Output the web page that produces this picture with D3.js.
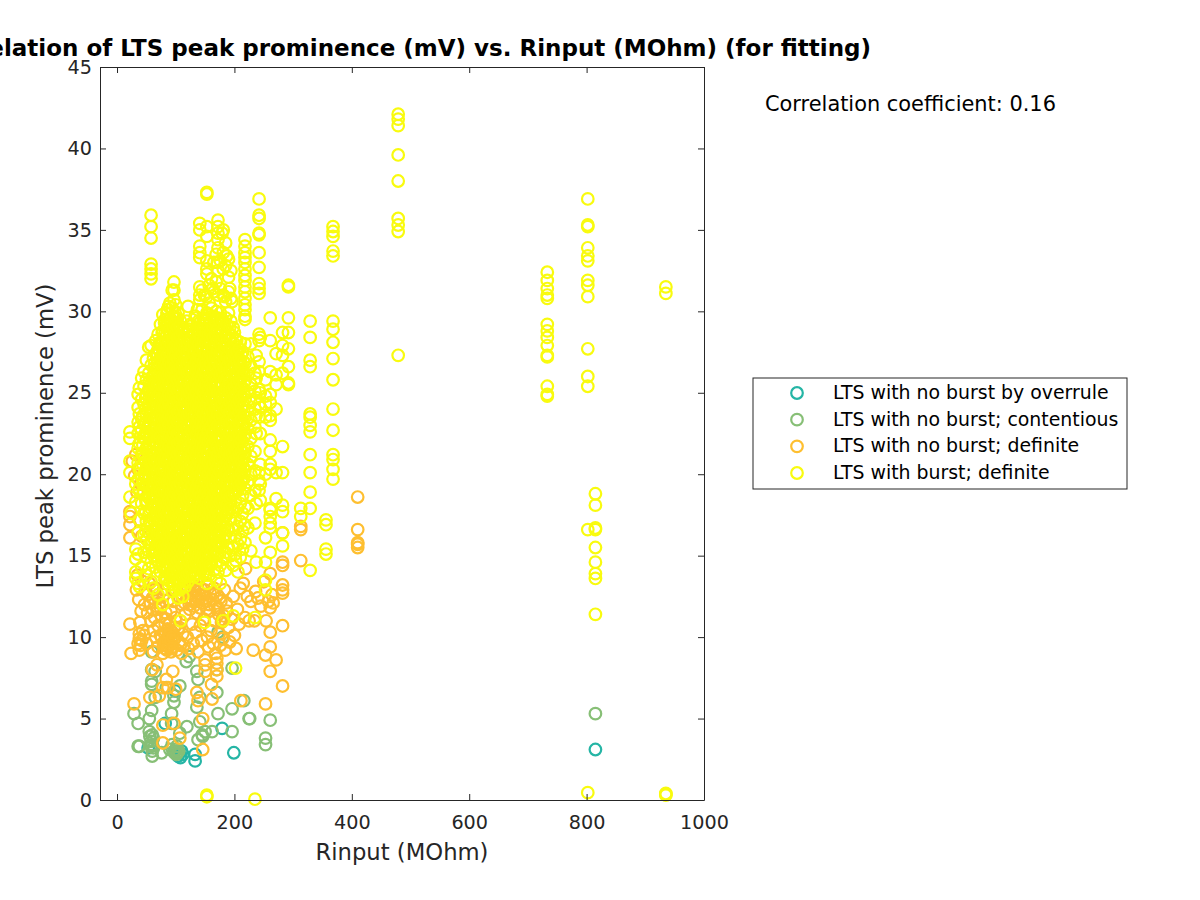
<!DOCTYPE html>
<html><head><meta charset="utf-8">
<script src="https://cdnjs.cloudflare.com/ajax/libs/d3/7.8.5/d3.min.js"></script>
<style>html,body{margin:0;padding:0;background:#fff;overflow:hidden}svg{display:block}text{font-family:"DejaVu Sans",sans-serif}</style>
</head><body><svg id="c" width="1200" height="900"></svg>
<script>
const titleText="Correlation of LTS peak prominence (mV) vs. Rinput (MOhm) (for fitting)";
const xLabel="Rinput (MOhm)", yLabel="LTS peak prominence (mV)";
const noteText="Correlation coefficient: 0.16";
const xTicks=[0,200,400,600,800,1000], yTicks=[0,5,10,15,20,25,30,35,40,45];
const seriesNames=["LTS with no burst by overrule","LTS with no burst; contentious","LTS with no burst; definite","LTS with burst; definite"];
const seriesColors=["#25b5a5","#87bf76","#febf30","#f9fb0e"];

const overruleX=[53,82,99,104,106,108,110,112,133,133,179,199,815];
const overruleY=[3.2,4.7,6.7,2.7,2.9,2.6,3.0,2.8,2.8,2.4,4.4,2.9,3.1];

const contentX=[29,36,36,38,55,55,56,58,58,59,59,59,59,59,60,60,60,60,62,62,65,65,76,84,90,93,93,94,97,97,97,98,100,101,102,103,105,107,107,118,119,123,136,136,138,138,141,141,145,146,150,162,170,170,172,180,172,196,196,196,216,225,226,253,253,261,815];
const contentY=[5.3,4.7,3.3,3.3,5.0,4.2,3.9,3.6,3.3,9.1,8.0,7.3,7.1,5.5,4.0,3.4,3.0,2.7,3.8,3.2,6.3,7.9,2.9,6.9,3.1,5.3,4.7,3.4,6.0,6.4,3.0,2.9,3.1,2.8,3.3,2.9,3.0,7.0,4.1,8.5,4.5,8.8,7.9,5.7,7.4,3.7,6.3,4.8,4.0,3.9,4.2,4.2,6.6,8.0,5.3,10.0,10.3,8.1,5.6,4.2,6.1,5.0,5.0,3.8,3.4,4.9,5.3];

const definiteX=[22,22,22,22,22,24,29,36,38,38,38,39,40,42,44,46,48,50,52,55,56,58,60,60,62,62,64,64,66,68,68,70,70,72,72,74,76,78,78,78,78,80,80,82,82,84,84,86,87,88,90,90,92,92,94,95,95,96,97,98,98,100,100,102,104,104,106,107,108,110,110,112,114,116,118,120,122,124,126,128,130,132,134,136,136,138,138,140,142,144,146,146,148,150,150,150,152,154,156,158,160,161,162,164,164,166,168,170,170,170,170,172,174,175,176,178,180,182,184,186,190,192,195,198,200,203,205,208,210,211,215,218,219,222,225,228,232,234,236,240,245,250,253,253,254,258,261,261,261,261,261,264,266,271,282,282,282,282,282,282,282,282,313,313,313,410,410,410,410,410];
const definiteY=[17.7,17.4,16.9,16.1,10.8,9.0,5.9,9.6,9.9,10.2,9.2,10.9,9.5,9.8,10.4,10.1,12.8,9.6,11.5,13.3,6.3,11.0,8.0,12.4,10.4,9.1,12.9,11.2,10.0,8.3,11.7,10.7,9.4,6.4,12.1,10.1,11.3,6.9,4.6,3.5,9.0,12.6,9.7,10.8,9.3,11.1,7.4,10.0,6.9,12.3,9.6,10.9,9.1,11.6,10.3,7.9,9.4,12.2,4.7,10.6,9.9,6.8,11.2,9.2,10.5,12.5,9.7,3.8,11.0,9.0,12.0,10.2,9.5,11.4,12.8,10.0,9.3,11.7,12.3,10.8,9.6,12.9,10.3,6.6,11.5,6.1,9.1,12.6,10.7,9.8,5.0,3.1,11.1,7.9,8.3,8.6,12.2,10.0,9.4,11.6,10.4,7.1,6.2,9.6,12.7,11.0,9.0,7.6,8.0,8.4,8.7,11.8,10.2,12.4,9.5,10.9,9.9,11.3,9.2,12.1,10.6,9.7,11.1,12.5,10.1,9.3,11.7,10.8,13.0,6.1,13.3,11.2,14.2,12.5,11.0,12.2,9.2,11.0,12.8,12.4,11.9,13.4,8.9,5.9,11.0,12.2,13.9,11.8,10.3,9.4,7.9,12.6,12.1,8.6,16.4,14.6,14.4,13.2,12.9,12.7,10.7,7.0,16.8,14.7,16.6,18.6,16.6,15.8,15.7,15.5];
const definiteMoreX=[33,35,37,41,44,47,52,57,61,66,70,74,79,83,76,79,81,83,85,86,87,88,89,90,91,92,93,95,106,108,111,113,115,117,119,121,123,125,127,129,131,133,135,137,139,141,143,145,147,149,151,153,155,157,159,163,165,167,171,173,177,179,183,187,26,30,32,36,40,34,38,42];
const definiteMoreY=[12.9,13.8,12.3,11.6,13.4,12.0,12.6,12.1,11.7,13.0,12.4,11.8,12.9,11.5,10.0,9.5,10.2,9.7,9.2,10.5,9.9,9.4,10.1,9.6,10.4,9.8,9.3,10.0,10.6,9.5,12.5,13.2,12.1,12.9,12.4,13.0,12.0,12.7,13.3,12.2,11.9,12.8,12.5,13.1,12.3,11.8,13.0,12.6,12.1,12.9,12.4,11.7,13.2,12.0,12.7,12.3,13.0,11.9,12.6,11.4,12.2,11.1,12.9,11.6,20.8,19.9,21.2,20.3,19.4,18.9,17.2,16.2];

const burstX=[22,24,32,36,38,42,46,50,54,58,62,66,70,74,78,82,86,90,94,97,100,104,108,112,116,121,125,129,133,137,141,145,149,153,157,161,165,169,172,176,181,185,190,194,198,202,206,210,214,218,223,228,235,237,242,244,253,261,271,282,292,313,329,356,368,479,733,802,815,935];
const burstY=[
[22.6,22.2,20.8,20.1,18.6],
[17.6],
[19.4,18.3,15.4,14.8,14.0,13.6],
[24.9,24.1,23.2,22.5,21.6,20.7,19.7,16.4,15.1,13.3],
[25.3,23.7,22.9,21.9,20.3,19.1,17.2,13.1],
[25.9,24.6,23.4,22.7,21.3,19.8,18.2,14.3],
[26.3,25.4,24.3,23.1,22.2,21.0,20.0,18.9,17.6,16.3,15.2],
[27.0,25.8,24.9,23.7,22.6,21.6,20.4,19.3,18.2,17.1,16.0,14.9,13.8],
[27.8,26.2,25.2,24.1,23.0,21.9,20.8,19.7,18.6,17.5,16.4,15.3,14.2],
[35.9,35.2,34.5,32.9,32.6,32.3,32.0,27.9,26.7,25.6,24.5,23.4,22.3,21.2,20.1,19.0,17.9,16.8,15.7,14.6,13.4],
[27.1,26.0,24.9,23.8,22.7,21.6,20.5,19.4,18.3,17.2,16.1,15.0,13.0],
[28.2,27.4,26.4,25.3,24.2,23.1,22.0,20.9,19.8,18.7,17.6,16.5,15.4,14.3],
[28.6,27.7,26.6,25.6,24.6,23.5,22.4,21.3,20.2,19.1,18.0,16.9,15.8,14.7,12.6],
[29.2,28.0,27.1,26.1,25.0,23.9,22.8,21.7,20.6,19.5,18.4,17.3,16.2,15.1,14.0],
[29.8,28.8,27.6,26.5,25.5,24.4,23.2,22.1,21.0,19.9,18.8,17.7,16.6,15.5,14.4,12.0],
[29.5,28.4,27.3,26.9,25.8,24.7,23.6,22.5,21.4,20.3,19.2,18.1,17.0,15.9,14.8,13.7],
[30.1,29.1,28.0,27.4,26.3,25.2,24.1,23.0,21.9,20.8,19.7,18.6,17.5,16.4,15.3,14.2],
[30.5,29.6,28.5,27.7,26.6,25.5,24.4,23.3,22.2,21.1,20.0,18.9,17.8,16.7,15.6,14.5,13.4],
[31.3,30.2,29.1,28.2,27.1,26.0,24.9,23.8,22.7,21.6,20.5,19.4,18.3,17.2,16.1,15.0,13.9,12.8],
[31.8,31.3,30.7,29.7,28.6,27.5,26.4,25.3,24.2,23.1,22.0,20.9,19.8,18.7,17.6,16.5,15.4,14.3,13.2],
[30.4,29.3,28.3,27.2,26.1,25.0,23.9,22.8,21.7,20.6,19.5,18.4,17.3,16.2,15.1,14.0,12.9],
[29.9,28.8,27.7,26.7,25.6,24.5,23.4,22.3,21.2,20.1,19.0,17.9,16.8,15.7,14.6,13.5,12.4],
[29.4,28.4,27.3,26.2,25.1,24.0,22.9,21.8,20.7,19.6,18.5,17.4,16.3,15.2,14.1,13.0,11.0],
[28.9,27.8,26.8,25.7,24.6,23.5,22.4,21.3,20.2,19.1,18.0,16.9,15.8,14.7,13.6,12.5],
[28.3,27.3,26.2,25.2,24.1,23.0,21.9,20.8,19.7,18.6,17.5,16.4,15.3,14.2,13.1],
[30.3,28.8,27.7,26.6,25.5,24.4,23.3,22.2,21.1,20.0,18.9,17.8,16.7,15.6,14.5,13.4],
[29.2,28.1,27.0,25.9,24.8,23.7,22.6,21.5,20.4,19.3,18.2,17.1,16.0,14.9,13.8],
[28.6,27.5,26.4,25.3,24.2,23.1,22.0,20.9,19.8,18.7,17.6,16.5,15.4,14.3],
[29.7,28.2,27.1,26.0,24.9,23.8,22.7,21.6,20.5,19.4,18.3,17.2,16.1,15.0,13.9],
[30.1,28.9,27.8,26.7,25.6,24.5,23.4,22.3,21.2,20.1,19.0,17.9,16.8,15.7,14.6],
[35.4,35.0,34.0,33.6,33.3,31.5,31.0,30.7,29.3,28.2,27.1,26.0,24.9,23.8,22.7,21.6,20.5,19.4,18.3,17.2,16.1,15.0,13.6],
[31.3,30.1,28.8,27.7,26.6,25.5,24.4,23.3,22.2,21.1,20.0,18.9,17.8,16.7,15.6,14.5],
[31.0,29.6,28.3,27.2,26.1,25.0,23.9,22.8,21.7,20.6,19.5,18.4,17.3,16.2,15.1,14.0,10.9],
[37.3,37.2,35.2,34.6,33.1,32.6,32.3,30.9,29.9,28.7,27.6,26.5,25.4,24.3,23.2,22.1,21.0,19.9,18.8,17.7,16.6,15.5,14.4,13.3,0.3,0.2],
[31.6,30.5,29.2,28.1,27.0,25.9,24.8,23.7,22.6,21.5,20.4,19.3,18.2,17.1,16.0,14.9,13.8],
[32.0,30.2,28.8,27.7,26.6,25.5,24.4,23.3,22.2,21.1,20.0,18.9,17.8,16.7,15.6,14.5],
[33.0,31.2,29.6,28.4,27.3,26.2,25.1,24.0,22.9,21.8,20.7,19.6,18.5,17.4,16.3,15.2,14.1],
[33.5,31.8,30.0,28.9,27.8,26.7,25.6,24.5,23.4,22.3,21.2,20.1,19.0,17.9,16.8,15.7,14.6,13.5],
[35.6,35.2,34.8,34.4,33.9,32.5,31.0,29.5,28.3,27.2,26.1,25.0,23.9,22.8,21.7,20.6,19.5,18.4,17.3,16.2,15.1,14.0],
[33.1,31.4,29.9,28.7,27.6,26.5,25.4,24.3,23.2,22.1,21.0,19.9,18.8,17.7,16.6,15.5,14.4,13.3],
[35.0,33.6,32.6,31.0,29.3,28.1,27.0,25.9,24.8,23.7,22.6,21.5,20.4,19.3,18.2,17.1,16.0,14.9,11.0],
[34.2,32.8,30.6,29.6,28.4,27.3,26.2,25.1,24.0,22.9,21.8,20.7,19.6,18.5,17.4,16.3,15.2,14.1],
[33.2,32.1,31.2,29.9,28.7,27.6,26.5,25.4,24.3,23.2,22.1,21.0,19.9,18.8,17.7,16.6,15.5],
[32.5,30.8,29.4,28.2,27.1,26.0,24.9,23.8,22.7,21.6,20.5,19.4,18.3,17.2,16.1,15.0],
[29.0,27.6,26.5,25.4,24.3,23.2,22.1,21.0,19.9,18.8,17.7,16.6,15.5,14.4,11.3],
[28.3,27.2,26.1,25.0,23.9,22.8,21.7,20.6,19.5,18.4,17.3,16.2,15.1,14.7,8.1],
[27.8,26.7,25.6,24.5,23.4,22.3,21.2,20.1,19.0,17.9,16.8,15.7,14.0],
[28.1,27.0,25.9,24.8,23.7,22.6,21.5,20.4,19.3,18.2,17.1,16.0,14.9],
[27.5,26.4,25.3,24.2,23.1,22.0,20.9,19.8,18.7,17.6,16.5,15.4],
[34.4,34.0,33.6,33.3,33.0,32.6,32.2,31.9,31.5,31.2,30.8,30.4,30.1,29.7,29.5,28.0,26.8,25.7,24.6,23.5,22.4,21.3,20.2,19.1,18.0,16.9,15.8],
[27.2,26.1,25.0,23.9,22.8,21.7,20.6,19.5,17.9,16.7],
[28.0,26.6,25.5,24.4,23.3,22.2,21.1,20.0,18.7,15.3],
[26.2,25.1,24.0,22.9,21.4,20.2,19.0,17.0,11.2],
[27.3,25.9,24.7,23.6,22.5,18.2,14.6],
[36.9,35.9,35.7,34.8,34.7,33.6,32.7,31.7,31.4,31.1,28.6,28.2,26.9,26.3,25.2,24.3,23.5,20.1,19.6,19.0],
[28.4,25.0,24.1,22.5,20.6,19.4,18.4],
[25.8,24.8,24.3,23.5,20.0,16.1,14.6,13.5,12.9],
[29.6,28.2,26.3,24.9,24.4,23.6,23.3,22.1,21.4,20.6,20.3,17.9,17.8,17.4,17.0,16.7,15.2],
[27.4,26.1,25.5,24.0,20.1,18.5],
[28.7,27.9,27.3,26.2,21.7,20.1,18.1,17.7,16.4,15.6],
[31.6,31.5,29.6,28.7,27.7,26.6,25.6,25.5],
[17.9,17.4],
[29.4,28.4,27.0,26.6,23.7,23.5,23.0,22.6,21.2,20.1,18.9,17.9,14.1],
[17.2,16.9,15.4,15.1],
[35.2,34.9,34.6,33.7,33.4,29.4,28.9,28.1,27.1,25.8,24.0,22.7,21.2,20.9,20.3,19.7],
[42.1,41.8,41.4,39.6,38.0,35.7,35.3,34.9,27.3],
[32.4,31.9,31.4,31.0,30.8,29.2,28.8,28.4,27.9,27.3,27.2,25.4,24.9,24.8],
[36.9,35.3,35.2,33.9,33.4,33.1,31.9,31.6,30.9,27.7,26.0,25.4,16.6,0.45],
[18.8,18.1,16.7,16.6,15.5,14.6,13.9,13.6,11.4],
[31.5,31.1,0.4,0.35,0.3]
];
const burstExtraX=[235];
const burstExtraY=[0.05];

const burstDenseX=[44,49,55,60,64,69,73,77,81,85,88,92,96,99,103,107,111,115,119,123,127,131,135,139,143,147,151,155,159,163,167,171,175,179,183,187,192,196,200,204,208,212,216];
const burstDenseY=[
[23.6,22.3,21.8,21.2,20.6,19.4,18.8],
[24.7,24.0,23.2,22.6,21.5,20.8,19.9,19.3,18.4,17.7,16.5],
[25.7,25.0,24.4,23.6,22.9,22.3,21.4,20.8,19.9,19.2,18.5,17.8,17.1,16.4,15.7],
[26.0,25.3,24.8,24.0,23.4,22.7,22.1,21.4,20.7,20.0,19.3,18.6,18.1,17.3,16.5,15.9,15.2],
[26.8,26.1,25.5,24.7,24.1,23.4,22.8,22.0,21.3,20.8,20.0,19.4,18.7,18.0,17.4,16.7,16.0,15.3],
[27.4,26.8,26.1,25.5,24.8,24.2,23.5,22.9,22.2,21.5,20.9,20.2,19.6,18.9,18.2,17.6,16.9,16.3,15.6,14.9],
[28.1,27.5,26.8,26.2,25.5,24.9,24.3,23.6,23.0,22.3,21.6,21.0,20.3,19.7,19.0,18.4,17.7,17.1,16.4,15.8,15.1],
[28.7,28.0,27.3,26.7,26.0,25.4,24.7,24.1,23.4,22.8,22.1,21.5,20.8,20.2,19.5,18.9,18.2,17.6,16.9,16.3,15.6,15.0,14.3],
[29.3,28.6,28.0,27.3,26.7,26.0,25.4,24.7,24.1,23.4,22.8,22.1,21.5,20.8,20.2,19.5,18.9,18.2,17.6,16.9,16.3,15.6,15.0,14.3,13.6],
[29.9,29.2,28.6,27.9,27.3,26.6,26.0,25.3,24.7,24.0,23.4,22.7,22.1,21.4,20.8,20.1,19.5,18.8,18.2,17.5,16.9,16.2,15.6,14.9,14.3,13.6],
[30.3,29.5,28.8,28.2,27.5,26.9,26.2,25.6,24.9,24.3,23.6,23.0,22.3,21.7,21.0,20.4,19.7,19.1,18.4,17.8,17.1,16.5,15.8,15.2,14.5,13.9,13.2],
[29.3,28.7,28.0,27.4,26.7,26.1,25.4,24.8,24.1,23.5,22.8,22.2,21.5,20.9,20.2,19.6,18.9,18.3,17.6,17.0,16.3,15.7,15.0,14.4,13.7],
[29.6,29.0,28.3,27.7,27.0,26.4,25.7,25.1,24.4,23.8,23.1,22.5,21.8,21.2,20.5,19.9,19.2,18.6,17.9,17.3,16.6,16.0,15.3,14.7,14.0,13.4],
[29.9,29.2,28.6,27.9,27.3,26.6,26.0,25.3,24.7,24.0,23.4,22.7,22.1,21.4,20.8,20.1,19.5,18.8,18.2,17.5,16.9,16.2,15.6,14.9,14.3,13.6],
[29.6,29.0,28.4,27.7,27.1,26.4,25.8,25.1,24.5,23.8,23.2,22.5,21.9,21.2,20.6,19.9,19.3,18.6,18.0,17.3,16.7,16.0,15.4,14.7,14.1,13.4],
[29.1,28.5,27.8,27.2,26.5,25.9,25.2,24.6,23.9,23.3,22.6,22.0,21.3,20.7,20.0,19.4,18.7,18.1,17.4,16.8,16.1,15.5,14.8,14.2,13.5,12.9],
[28.7,28.1,27.4,26.8,26.1,25.5,24.8,24.2,23.5,22.9,22.2,21.6,20.9,20.3,19.6,19.0,18.3,17.7,17.0,16.4,15.7,15.1,14.4,13.8,13.1],
[28.4,27.7,27.1,26.4,25.8,25.1,24.5,23.8,23.2,22.5,21.9,21.2,20.6,19.9,19.3,18.6,18.0,17.3,16.7,16.0,15.4,14.7,14.1,13.4],
[29.4,28.8,28.1,27.5,26.8,26.2,25.5,24.9,24.2,23.6,22.9,22.3,21.6,21.0,20.3,19.7,19.0,18.4,17.7,17.1,16.4,15.8,15.1,14.5,13.8],
[28.9,28.2,27.6,26.9,26.3,25.6,25.0,24.3,23.7,23.0,22.4,21.7,21.1,20.4,19.8,19.1,18.5,17.8,17.2,16.5,15.9,15.2,14.6,13.9],
[29.1,28.4,27.8,27.1,26.5,25.8,25.2,24.5,23.9,23.2,22.6,21.9,21.3,20.6,20.0,19.3,18.7,18.0,17.4,16.7,16.1,15.4,14.8,14.1],
[28.7,28.0,27.4,26.7,26.1,25.4,24.8,24.1,23.5,22.8,22.2,21.5,20.9,20.2,19.6,18.9,18.3,17.6,17.0,16.3,15.7,15.0,14.4,13.7],
[29.6,28.9,28.2,27.6,26.9,26.3,25.6,25.0,24.3,23.7,23.0,22.4,21.7,21.1,20.4,19.8,19.1,18.5,17.8,17.2,16.5,15.9,15.2,14.6,13.9],
[29.4,28.6,28.0,27.3,26.7,26.0,25.4,24.7,24.1,23.4,22.8,22.1,21.5,20.8,20.2,19.5,18.9,18.2,17.6,16.9,16.3,15.6,15.0,14.3],
[29.1,28.4,27.8,27.1,26.5,25.8,25.2,24.5,23.9,23.2,22.6,21.9,21.3,20.6,20.0,19.3,18.7,18.0,17.4,16.7,16.1,15.4,14.8,14.1],
[29.5,28.9,28.2,27.6,26.9,26.3,25.6,25.0,24.3,23.7,23.0,22.4,21.7,21.1,20.4,19.8,19.1,18.5,17.8,17.2,16.5,15.9,15.2,14.6,13.9],
[29.4,28.7,28.1,27.4,26.8,26.1,25.5,24.8,24.2,23.5,22.9,22.2,21.6,20.9,20.3,19.6,19.0,18.3,17.7,17.0,16.4,15.7,15.1,14.4,13.8],
[29.8,29.1,28.5,27.8,27.2,26.5,25.9,25.2,24.6,23.9,23.3,22.6,22.0,21.3,20.7,20.0,19.4,18.7,18.1,17.4,16.8,16.1,15.5,14.8,14.2],
[29.4,28.7,28.1,27.4,26.8,26.1,25.5,24.8,24.2,23.5,22.9,22.2,21.6,20.9,20.3,19.6,19.0,18.3,17.7,17.0,16.4,15.7,15.1,14.4],
[31.4,29.7,29.0,28.4,27.7,27.1,26.4,25.8,25.1,24.5,23.8,23.2,22.5,21.9,21.2,20.6,19.9,19.3,18.6,18.0,17.3,16.7,16.0,15.4],
[29.4,28.6,28.0,27.3,26.7,26.0,25.4,24.7,24.1,23.4,22.8,22.1,21.5,20.8,20.2,19.5,18.9,18.2,17.6,16.9,16.3,15.6,15.0],
[33.0,29.6,28.9,28.2,27.6,26.9,26.3,25.6,25.0,24.3,23.7,23.0,22.4,21.7,21.1,20.4,19.8,19.1,18.5,17.8,17.2,16.5,15.9,15.2],
[29.4,28.7,28.0,27.4,26.7,26.1,25.4,24.8,24.1,23.5,22.8,22.2,21.5,20.9,20.2,19.6,18.9,18.3,17.6,17.0,16.3,15.7],
[34.8,29.5,28.8,28.2,27.5,26.9,26.2,25.6,24.9,24.3,23.6,23.0,22.3,21.7,21.0,20.4,19.7,19.1,18.4,17.8,17.1,16.5],
[30.9,29.1,28.4,27.8,27.1,26.5,25.8,25.2,24.5,23.9,23.2,22.6,21.9,21.3,20.6,20.0,19.3,18.7,18.0,17.4,16.7],
[33.4,29.2,28.5,27.9,27.2,26.6,25.9,25.3,24.6,24.0,23.3,22.7,22.0,21.4,20.7,20.1,19.4,18.8,18.1,17.5],
[31.4,29.0,28.3,27.7,27.0,26.4,25.7,25.1,24.4,23.8,23.1,22.5,21.8,21.2,20.5,19.9,19.2,18.6,17.9],
[30.6,28.5,27.8,27.2,26.5,25.9,25.2,24.6,23.9,23.3,22.6,22.0,21.3,20.7,20.0,19.4,18.7],
[28.7,28.0,27.4,26.7,26.1,25.4,24.8,24.1,23.5,22.8,22.2,21.5,20.9,20.2,19.6,18.9],
[28.2,27.5,26.9,26.2,25.6,24.9,24.3,23.6,23.0,22.3,21.7,21.0,20.4,19.7,19.1],
[27.7,27.1,26.4,25.8,25.1,24.5,23.8,23.2,22.5,21.9,21.2,20.6,19.9,19.3],
[27.3,26.6,26.0,25.3,24.7,24.0,23.4,22.7,22.1,21.4,20.8,20.1,19.5],
[26.9,26.2,25.6,24.9,24.3,23.6,23.0,22.3,21.7,21.0,20.4,19.7]
];

const overrule=overruleX.map((x,i)=>[x,overruleY[i]]);
const contentious=contentX.map((x,i)=>[x,contentY[i]]);
const definite=definiteX.map((x,i)=>[x,definiteY[i]]).concat(definiteMoreX.map((x,i)=>[x,definiteMoreY[i]]));
const burst=burstX.flatMap((x,i)=>burstY[i].map(y=>[x,y]))
  .concat(burstDenseX.flatMap((x,i)=>burstDenseY[i].map(y=>[x,y])))
  .concat(burstExtraX.map((x,i)=>[x,burstExtraY[i]]));
const allSeries=[overrule,contentious,definite,burst];

const svg=d3.select("#c");
const L=100,R=704,T=67,B=800,ink="#262626",ringR=5.8,ringW=2.2;
const x=d3.scaleLinear().domain([-29,1000]).range([L,R]);
const y=d3.scaleLinear().domain([0,45]).range([B,T]);

allSeries.forEach((pts,i)=>{
  svg.append("g").selectAll("circle").data(pts).join("circle")
    .attr("cx",d=>x(d[0])).attr("cy",d=>y(d[1])).attr("r",ringR)
    .attr("fill","none").attr("stroke",seriesColors[i]).attr("stroke-width",ringW);
});

function styleAxis(g,size){
  g.selectAll("path.domain").attr("stroke",ink).attr("stroke-width",1);
  g.selectAll("line").attr("stroke",ink).attr("stroke-width",1);
  g.selectAll("text").attr("fill",ink).style("font-size",size+"px").style("font-family",'"DejaVu Sans",sans-serif');
}
const fs=19.2;
svg.append("g").attr("transform",`translate(0,${B})`)
  .call(d3.axisBottom(x).tickValues(xTicks).tickSize(-6).tickSizeOuter(0).tickPadding(15).tickFormat(d3.format("d")))
  .call(g=>styleAxis(g,fs));
svg.append("g").attr("transform",`translate(0,${T})`)
  .call(d3.axisTop(x).tickValues(xTicks).tickSize(-6).tickSizeOuter(0).tickFormat(""))
  .call(g=>styleAxis(g,fs));
svg.append("g").attr("transform",`translate(${L},0)`)
  .call(d3.axisLeft(y).tickValues(yTicks).tickSize(-6).tickSizeOuter(0).tickPadding(8).tickFormat(d3.format("d")))
  .call(g=>styleAxis(g,fs));
svg.append("g").attr("transform",`translate(${R},0)`)
  .call(d3.axisRight(y).tickValues(yTicks).tickSize(-6).tickSizeOuter(0).tickFormat(""))
  .call(g=>styleAxis(g,fs));

svg.append("text").attr("x",402).attr("y",55.5).attr("text-anchor","middle")
  .style("font-size","23px").style("font-weight","bold").attr("fill","#000").text(titleText);
svg.append("text").attr("x",402).attr("y",860).attr("text-anchor","middle")
  .style("font-size","22.7px").attr("fill",ink).text(xLabel);
svg.append("text").attr("transform","translate(53,436) rotate(-90)").attr("text-anchor","middle")
  .style("font-size","22.7px").attr("fill",ink).text(yLabel);
svg.append("text").attr("x",765).attr("y",111)
  .style("font-size","20.9px").attr("fill","#000").text(noteText);

const lg=svg.append("g");
lg.append("rect").attr("x",753).attr("y",378).attr("width",374).attr("height",111)
  .attr("fill","#fff").attr("stroke",ink).attr("stroke-width",1);
const legY=d3.scalePoint().domain(seriesNames).range([393,473]);
seriesNames.forEach((n,i)=>{
  lg.append("circle").attr("cx",797).attr("cy",legY(n)).attr("r",ringR)
    .attr("fill","none").attr("stroke",seriesColors[i]).attr("stroke-width",ringW);
  lg.append("text").attr("x",833).attr("y",legY(n)+6).style("font-size","18.9px").attr("fill","#000").text(n);
});
</script></body></html>
